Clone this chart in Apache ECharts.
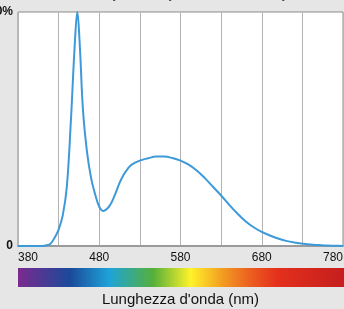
<!DOCTYPE html>
<html>
<head>
<meta charset="utf-8">
<script src="https://cdn.jsdelivr.net/npm/echarts@6/dist/echarts.min.js"></script>
<style>
html,body{margin:0;padding:0;background:#e6e6e6;}
#c{width:344px;height:309px;}
</style>
</head>
<body>
<div id="c"></div>
<script>
var wavelengths = [380,400,410,415,420,425,430,435,440,445,450,453,456,460,465,470,475,480,485,490,495,500,505,510,515,520,530,540,550,560,570,580,590,600,610,620,630,640,650,660,670,680,690,700,710,720,730,740,750,760,770,780];
var intensity   = [0,0,0,0.3,1,3.5,7,13,25,53,87,100,86,58,40,29,22,16.8,15,16,18.5,22.5,27,30.5,33,34.8,36.5,37.5,38.2,38.2,37.6,36.5,34.8,32.3,29,25.3,21.6,17.6,13.9,10.6,8,6,4.5,3.2,2.2,1.5,1,0.6,0.4,0.2,0.1,0];
var xTicks = [380,480,580,680,780];
var yTickLabels = {0:'0',100:'100%'};
var spectrumStops = [
  [0,'#7b2a8e'],[0.16,'#1a4a9a'],[0.28,'#1ea3d8'],[0.415,'#56b03a'],
  [0.53,'#fff22a'],[0.63,'#f29a20'],[0.71,'#ec6020'],[0.795,'#e4301c'],[1,'#c41e1e']
];

var chart = echarts.init(document.getElementById('c'));
var data = wavelengths.map(function(w,i){return [w,intensity[i]];});
chart.setOption({
  backgroundColor:'#e6e6e6',
  animation:false,
  textStyle:{fontFamily:'Liberation Sans'},
  grid:{left:18,right:1,top:12,bottom:63,containLabel:false,outerBoundsMode:'none',show:true,backgroundColor:'#ffffff',borderColor:'#8a8a8a',borderWidth:1},
  xAxis:{
    type:'value',min:380,max:780,interval:50,
    name:"Lunghezza d'onda (nm)",nameLocation:'middle',nameGap:46,
    nameTextStyle:{fontSize:15,color:'#111',fontFamily:'Liberation Sans'},
    axisLine:{show:true,lineStyle:{color:'#9a9a9a',width:2}},
    axisTick:{show:false},
    splitLine:{show:true,lineStyle:{color:'#b4b4b4',width:1}},
    axisLabel:{color:'#111',fontSize:12,margin:6,alignMinLabel:'left',alignMaxLabel:'right',
      formatter:function(v){return xTicks.indexOf(v)>=0?String(v):'';}}
  },
  yAxis:{
    type:'value',min:0,max:100,interval:100,
    axisLine:{show:false},axisTick:{show:false},splitLine:{show:false},
    axisLabel:{color:'#111',fontSize:12,margin:5,fontWeight:'bold',
      formatter:function(v){return yTickLabels[v]!==undefined?yTickLabels[v]:'';}}
  },
  graphic:[
    {type:'rect',shape:{x:18,y:268,width:326,height:19},
     style:{fill:new echarts.graphic.LinearGradient(0,0,1,0,spectrumStops.map(function(s){return {offset:s[0],color:s[1]};}))}},
    {type:'text',x:12,y:-13,style:{text:'Distribuzione spettrale (intensità relativa)',font:'bold 14px Liberation Sans',fill:'#444'}}
  ],
  series:[{
    type:'line',data:data,smooth:0.4,showSymbol:false,
    lineStyle:{color:'#3d9ad9',width:2},
    clip:false
  }]
});
</script>
</body>
</html>
